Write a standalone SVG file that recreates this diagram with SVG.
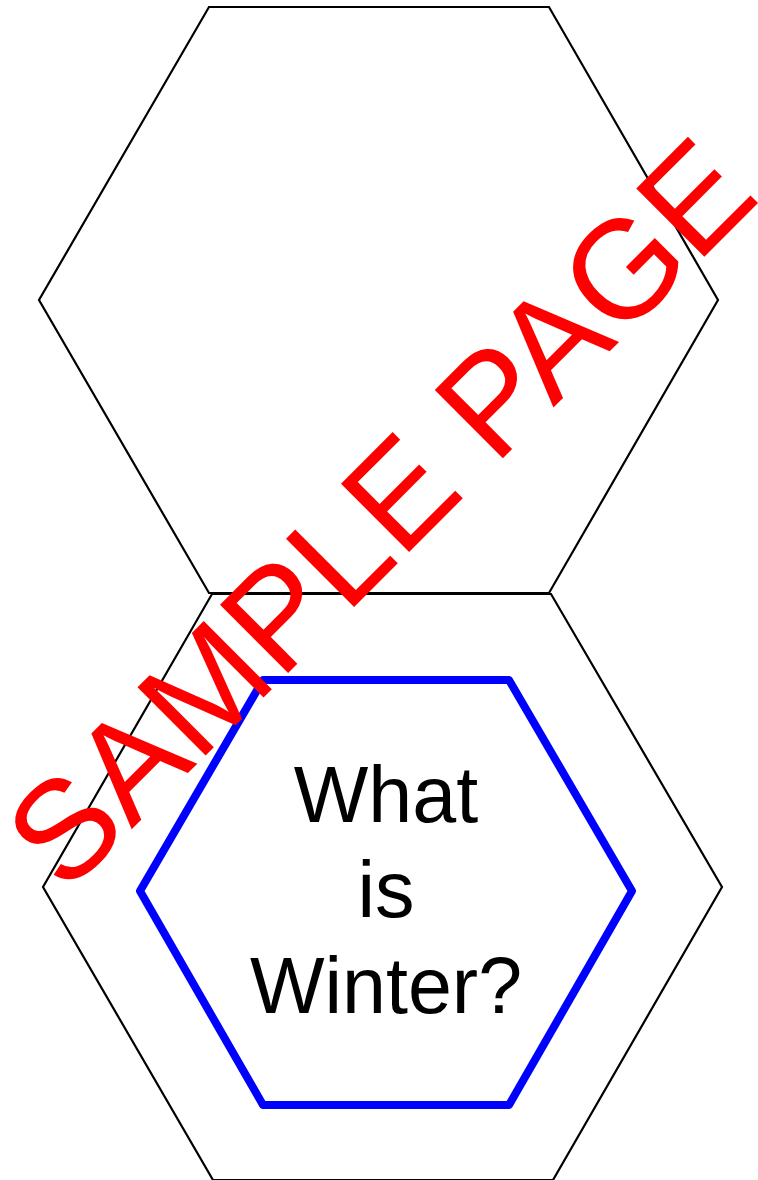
<svg xmlns="http://www.w3.org/2000/svg" width="758" height="1180" viewBox="0 0 758 1180">
<style>
.hex{fill:none;stroke:#000;stroke-width:2.2;stroke-linejoin:miter}
.inner{fill:none;stroke:#0000ff;stroke-width:8;stroke-linejoin:round}
.q{font-family:"Liberation Sans",Arial,sans-serif;font-size:79px;fill:#000;text-anchor:middle}
.wm{font-family:"Liberation Sans",Arial,sans-serif;font-size:140px;fill:#ff0000}
</style>
<rect width="758" height="1180" fill="#fff"/>
<g id="hex-top"><polygon class="hex" points="209,7 549,7 718,300 549,593 209,593 39,300"/></g>
<g id="hex-bottom">
<polygon class="hex" points="212,594 551,594 722,887 553,1180 213,1180 43,887"/>
<polygon class="inner" points="263,680 509,680 632,891 509,1105 263,1105 140,891"/>
<text class="q"><tspan x="386" y="822">What</tspan><tspan x="386" y="917">is</tspan><tspan x="386" y="1013">Winter?</tspan></text>
</g>
<g id="connectors"/>
<g id="watermark"><text class="wm" transform="translate(65.5,895.5) rotate(-45)" x="0" y="0">SAMPLE PAGE</text></g>
</svg>
